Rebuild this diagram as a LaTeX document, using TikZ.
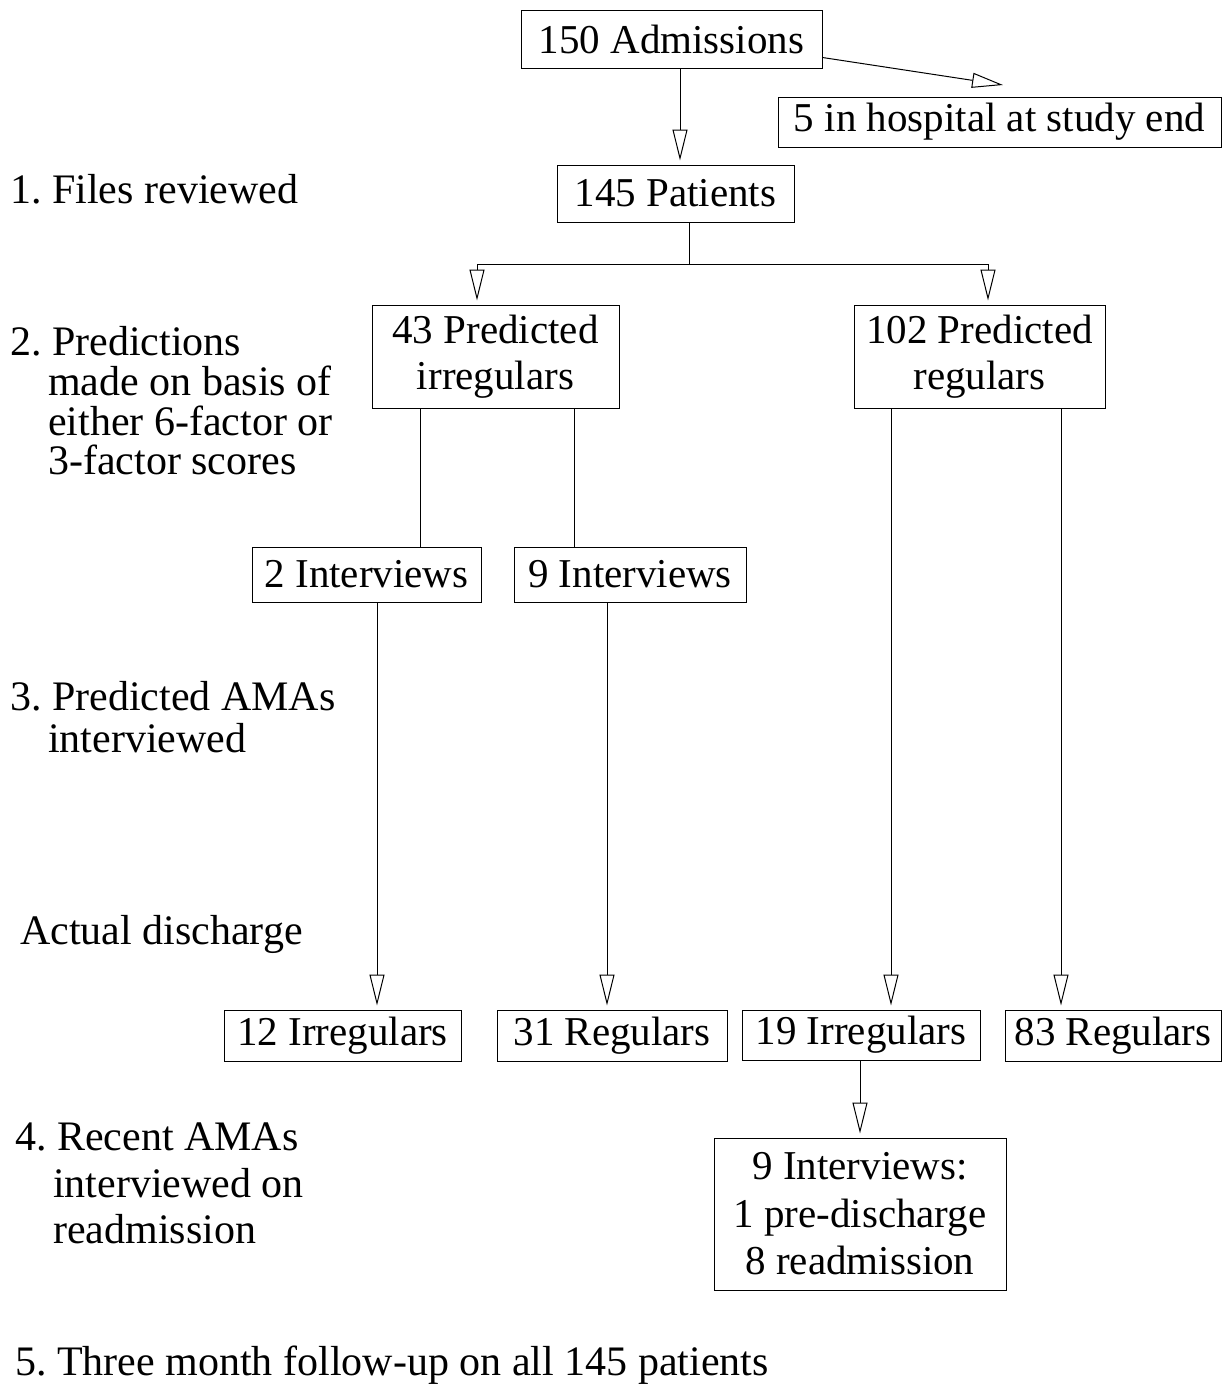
\documentclass[tikz,border=0pt]{standalone}
\usepackage{fontspec}
\setmainfont{Liberation Serif}
\usetikzlibrary{arrows.meta}
\frenchspacing
\begin{document}
\begin{tikzpicture}[x=1pt,y=-1pt,
  box/.style={draw,line width=1pt,inner sep=0pt,align=center,font=\fontsize{41}{46}\selectfont},
  lab/.style={anchor=base west,inner sep=0pt,font=\fontsize{42}{46}\selectfont},
  conn/.style={line width=1pt},
  arr/.style={line width=1pt,-{Triangle[open,length=31pt,width=15pt,line width=1pt]},shorten >=4pt}]
\useasboundingbox[fill=white] (0,0) rectangle (1223,1384);
% boxes
\node[box,minimum width=301pt,minimum height=58pt] (adm) at (671.5,39) {150 Admissions};
\node[box,minimum width=443pt,minimum height=50pt] (hosp) at (999.5,122) {5 in hospital at study end};
\node[box,minimum width=237pt,minimum height=57pt] (pat) at (675.5,193.5) {145 Patients};
\node[box,minimum width=247pt,minimum height=103pt] (pi) at (495.5,356.5) {43 Predicted\\irregulars};
\node[box,minimum width=251pt,minimum height=103pt] (pr) at (979.5,356.5) {102 Predicted\\regulars};
\node[box,minimum width=229pt,minimum height=55pt] (i2) at (366.5,574.5) {2 Interviews};
\node[box,minimum width=232pt,minimum height=55pt] (i9) at (630,574.5) {9 Interviews};
\node[box,minimum width=237pt,minimum height=51pt] (r12) at (342.5,1035.5) {12 Irregulars};
\node[box,minimum width=230pt,minimum height=51pt] (r31) at (612,1035.5) {31 Regulars};
\node[box,minimum width=238pt,minimum height=50pt] (r19) at (861,1035) {19 Irregulars};
\node[box,minimum width=216pt,minimum height=51pt] (r83) at (1113,1035.5) {83 Regulars};
\node[box,font=\fontsize{41}{47.5}\selectfont,minimum width=292pt,minimum height=152pt] (iv9) at (860,1214) {9 Interviews:\\1 pre-discharge\\8 readmission};
% left labels
\node[lab] (l1) at (10,203) {1. Files reviewed};
\node[lab] (l2a) at (10,355) {2. Predictions};
\node[lab] (l2b) at (48,395) {made on basis of};
\node[lab] (l2c) at (48,435) {either 6-factor or};
\node[lab] (l2d) at (48,474) {3-factor scores};
\node[lab] (l3a) at (10,710) {3. Predicted AMAs};
\node[lab] (l3b) at (48,752) {interviewed};
\node[lab] (lad) at (20,944) {Actual discharge};
\node[lab] (l4a) at (15,1150) {4. Recent AMAs};
\node[lab] (l4b) at (53,1197) {interviewed on};
\node[lab] (l4c) at (53,1243) {readmission};
\node[lab] (l5) at (15,1375) {5. Three month follow-up on all 145 patients};
% connectors
\coordinate (hospin) at (1003,85);
\draw[arr,shorten >=0pt] ([yshift=11pt]adm.south east) -- (hospin);
\draw[arr] ([xshift=8.5pt]adm.south) -- ([xshift=8.5pt]adm.south |- pat.north);
\coordinate (br) at (689,264);
\coordinate (brl) at (477,264);
\coordinate (brr) at (988,264);
\draw[conn] ([xshift=13.5pt]pat.south) -- (br);
\draw[conn] (brl) -- (brr);
\draw[arr] (brl) -- (brl |- pi.north);
\draw[arr] (brr) -- (brr |- pr.north);
\draw[conn] ([xshift=-75.5pt]pi.south) -- ([xshift=-75.5pt]pi.south |- i2.north);
\draw[conn] ([xshift=78.5pt]pi.south) -- ([xshift=78.5pt]pi.south |- i9.north);
\draw[arr] ([xshift=10.5pt]i2.south) -- ([xshift=10.5pt]i2.south |- r12.north);
\draw[arr] ([xshift=-23pt]i9.south) -- ([xshift=-23pt]i9.south |- r31.north);
\draw[arr] ([xshift=-88.5pt]pr.south) -- ([xshift=-88.5pt]pr.south |- r19.north);
\draw[arr] ([xshift=81.5pt]pr.south) -- ([xshift=81.5pt]pr.south |- r83.north);
\draw[arr] ([xshift=-1pt]r19.south) -- ([xshift=-1pt]r19.south |- iv9.north);
\end{tikzpicture}
\end{document}
